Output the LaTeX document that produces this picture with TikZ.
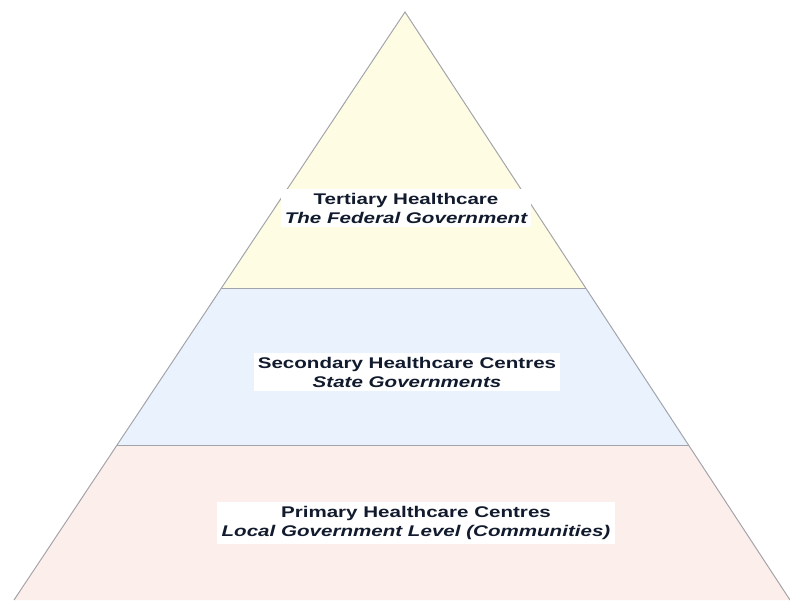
\documentclass[tikz,border=0pt]{standalone}
\usepackage{fontspec}
\newfontfamily\pyrfont[FakeStretch=1.33]{Liberation Sans}
\usetikzlibrary{calc}

\definecolor{tiertop}{HTML}{FEFDE4}
\definecolor{tiermid}{HTML}{EAF3FD}
\definecolor{tierlow}{HTML}{FCEFEB}
\definecolor{tieredge}{HTML}{A3A3AB}
\definecolor{tiertext}{HTML}{121B2E}

\tikzset{
  tierlabel/.style={fill=white, text=tiertext, align=center, inner xsep=3pt, inner ysep=3pt,
    font=\pyrfont\fontsize{11pt}{13.5pt}\selectfont\bfseries},
  tieredge/.style={draw=tieredge, line width=0.7pt}
}

\begin{document}
\begin{tikzpicture}[x=0.025cm, y=-0.025cm]
% 1 unit = 1 px of the 790x600 frame
\useasboundingbox (0,0) rectangle (790,600);

\coordinate (apex) at (405,12);
\coordinate (bl) at (14,600);
\coordinate (br) at (790,600);
% band borders at y=288 and y=445
\coordinate (ml) at ($(apex)!0.4694!(bl)$);
\coordinate (mr) at ($(apex)!0.4694!(br)$);
\coordinate (ll) at ($(apex)!0.7364!(bl)$);
\coordinate (lr) at ($(apex)!0.7364!(br)$);

%% the three tiers
\fill[tiertop] (apex) -- (mr) -- (ml) -- cycle;
\fill[tiermid] (ml) -- (mr) -- (lr) -- (ll) -- cycle;
\fill[tierlow] (ll) -- (lr) -- (br) -- (bl) -- cycle;

\draw[tieredge] (bl) -- (apex) -- (br);
\draw[tieredge] (ml) -- (mr);
\draw[tieredge] (ll) -- (lr);

% labels
\node[tierlabel] (tertiary) at (406,208) {Tertiary Healthcare\\ \itshape The Federal Government};
\node[tierlabel] (secondary) at (407,372) {Secondary Healthcare Centres\\ \itshape State Governments};
\node[tierlabel] (primary) at (416,523) {Primary Healthcare Centres\\ \itshape Local Government Level (Communities)};

\end{tikzpicture}
\end{document}
